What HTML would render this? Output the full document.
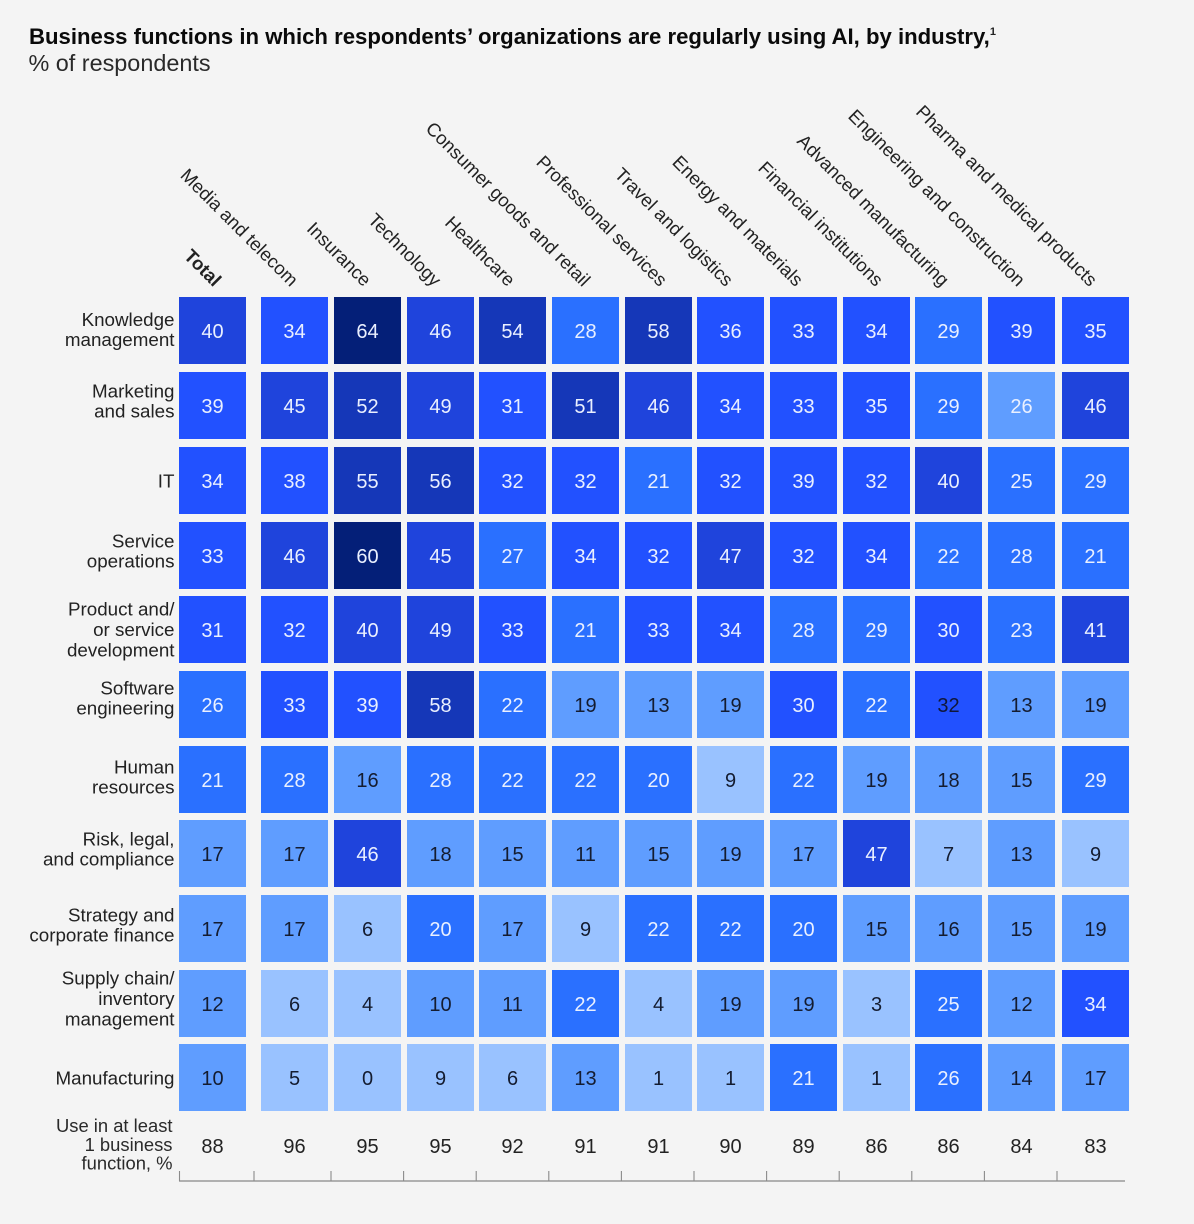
<!DOCTYPE html>
<html lang="en">
<head>
<meta charset="utf-8">
<title>Business functions using AI by industry</title>
<style>
  html, body { margin: 0; padding: 0; background: #f4f4f4; }
  #chart { display: block; width: 1194px; height: 1224px; font-family: "Liberation Sans", sans-serif; }
  .title { font-size: 22.15px; font-weight: 700; fill: #0a0a0a; }
  .subtitle { font-size: 23.4px; fill: #2a2a2a; }
  .sup { font-size: 11px; fill: #222; }
  .row-label { font-size: 18.8px; fill: #222; text-anchor: end; }
  .use-label { font-size: 18.4px; fill: #2a2a2a; text-anchor: end; }
  .col-label { font-size: 18.6px; fill: #222; text-anchor: end; }
  .cell-value { font-size: 20px; text-anchor: middle; }
  .use-value { font-size: 20px; fill: #222; text-anchor: middle; }
</style>
</head>
<body>
<svg id="chart" xmlns="http://www.w3.org/2000/svg" width="1194" height="1224" viewBox="0 0 1194 1224">
  <rect x="0" y="0" width="1194" height="1224" fill="#f4f4f4"></rect>
  <text class="title" x="29" y="44">Business functions in which respondents’ organizations are regularly using AI, by industry,<tspan class="sup" dy="-9">1</tspan></text>
  <text class="subtitle" x="28.5" y="71">% of respondents</text>
  <g id="col-labels"></g>
  <g id="row-labels"></g>
  <g id="cells"></g>
  <g id="use-row"></g>
  <g id="axis"></g>
</svg>
<script>
const industries = ["Total", "Media and telecom", "Insurance", "Technology", "Healthcare", "Consumer goods and retail", "Professional services", "Travel and logistics", "Energy and materials", "Financial institutions", "Advanced manufacturing", "Engineering and construction", "Pharma and medical products"];
const functionLabels = [["Knowledge", "management"], ["Marketing", "and sales"], ["IT"], ["Service", "operations"], ["Product and/", "or service", "development"], ["Software", "engineering"], ["Human", "resources"], ["Risk, legal,", "and compliance"], ["Strategy and", "corporate finance"], ["Supply chain/", "inventory", "management"], ["Manufacturing"]];
const knowledgeManagement = [40, 34, 64, 46, 54, 28, 58, 36, 33, 34, 29, 39, 35];
const marketingAndSales = [39, 45, 52, 49, 31, 51, 46, 34, 33, 35, 29, 26, 46];
const itFunction = [34, 38, 55, 56, 32, 32, 21, 32, 39, 32, 40, 25, 29];
const serviceOperations = [33, 46, 60, 45, 27, 34, 32, 47, 32, 34, 22, 28, 21];
const productDevelopment = [31, 32, 40, 49, 33, 21, 33, 34, 28, 29, 30, 23, 41];
const softwareEngineering = [26, 33, 39, 58, 22, 19, 13, 19, 30, 22, 32, 13, 19];
const humanResources = [21, 28, 16, 28, 22, 22, 20, 9, 22, 19, 18, 15, 29];
const riskLegalCompliance = [17, 17, 46, 18, 15, 11, 15, 19, 17, 47, 7, 13, 9];
const strategyFinance = [17, 17, 6, 20, 17, 9, 22, 22, 20, 15, 16, 15, 19];
const supplyChain = [12, 6, 4, 10, 11, 22, 4, 19, 19, 3, 25, 12, 34];
const manufacturing = [10, 5, 0, 9, 6, 13, 1, 1, 21, 1, 26, 14, 17];
const useLabelLines = ["Use in at least", "1 business", "function, %"];
const useInAtLeastOne = [88, 96, 95, 95, 92, 91, 91, 90, 89, 86, 86, 84, 83];

const matrix = [knowledgeManagement, marketingAndSales, itFunction, serviceOperations, productDevelopment, softwareEngineering, humanResources, riskLegalCompliance, strategyFinance, supplyChain, manufacturing];

const SVG_NS = "http://www.w3.org/2000/svg";
const CELL = 67;

function xScale(i) {
  if (i === 0) return 179;
  return Math.round(261.1 + 72.7 * (i - 1) + (i === 12 ? 1 : 0));
}
function yScale(r) {
  return Math.round(297.4 + 74.7 * r);
}
function tickX(i) {
  if (i === 0) return 179.5;
  if (i === 1) return 254;
  return 331 + 72.6 * (i - 2);
}
function colLabelNudge(i) {
  const nudges = [1, -4, -4, -7, -5, -3, 1, -5, -8, -1, -7, -4, -6];
  return nudges[i] || 0;
}
function rowLabelNudge(r) {
  const nudges = [-0.5, -4, 1, -4, 0.5, -6, -2, -4, -3, -4.5, 1];
  return nudges[r] || 0;
}
function fillFor(v, r, c) {
  if (r === 1 && c === 11) return "#5f9dff";
  if (v >= 60) return "#041f78";
  if (v >= 50) return "#1537b8";
  if (v >= 40) return "#1f44dc";
  if (v >= 30) return "#2251ff";
  if (v >= 20) return "#2a70ff";
  if (v >= 10) return "#5f9dff";
  return "#99c2ff";
}
function inkFor(v, r, c) {
  if (r === 5 && c === 10) return "#10173a";
  return v < 20 ? "#141c30" : "#eaf0ff";
}
function make(tag) {
  return document.createElementNS(SVG_NS, tag);
}
function slug(s) {
  return s.toLowerCase().replace(/[^a-z0-9]+/g, "-").replace(/^-|-$/g, "");
}

const colLabelsG = document.getElementById("col-labels");
const rowLabelsG = document.getElementById("row-labels");
const cellsG = document.getElementById("cells");
const useG = document.getElementById("use-row");
const axisG = document.getElementById("axis");

industries.forEach(function (name, c) {
  const t = make("text");
  
  
  t.setAttribute("class", "col-label");
  const cx = xScale(c) + CELL / 2;
  t.setAttribute("transform", "translate(" + (cx + colLabelNudge(c)) + ",287.5) rotate(45)");
  if (c === 0) t.style.fontWeight = "700";
  t.textContent = name;
  colLabelsG.appendChild(t);
});

functionLabels.forEach(function (lines, r) {
  const mid = yScale(r) + CELL / 2 + rowLabelNudge(r);
  const lh = 20.4;
  lines.forEach(function (line, k) {
    const t = make("text");
    
    
    t.setAttribute("class", "row-label");
    t.setAttribute("x", 174.5);
    t.setAttribute("y", mid + (k - (lines.length - 1) / 2) * lh + 6);
    t.textContent = line;
    rowLabelsG.appendChild(t);
  });
});

matrix.forEach(function (rowValues, r) {
  rowValues.forEach(function (v, c) {
    const rect = make("rect");
    
    
    rect.setAttribute("x", xScale(c));
    rect.setAttribute("y", yScale(r));
    rect.setAttribute("width", CELL);
    rect.setAttribute("height", CELL);
    rect.setAttribute("fill", fillFor(v, r, c));
    cellsG.appendChild(rect);

    const t = make("text");
    
    
    t.setAttribute("class", "cell-value");
    t.setAttribute("x", xScale(c) + CELL / 2);
    t.setAttribute("y", yScale(r) + 41);
    t.setAttribute("fill", inkFor(v, r, c));
    t.textContent = v;
    cellsG.appendChild(t);
  });
});

useLabelLines.forEach(function (line, k) {
  const t = make("text");
  
  
  t.setAttribute("class", "use-label");
  t.setAttribute("x", 172.5);
  t.setAttribute("y", 1132 + k * 18.8);
  t.textContent = line;
  useG.appendChild(t);
});

useInAtLeastOne.forEach(function (v, c) {
  const t = make("text");
  
  
  t.setAttribute("class", "use-value");
  t.setAttribute("x", xScale(c) + CELL / 2);
  t.setAttribute("y", 1153);
  t.textContent = v;
  useG.appendChild(t);
});

const baseLine = make("line");


baseLine.setAttribute("x1", 179);
baseLine.setAttribute("x2", 1125);
baseLine.setAttribute("y1", 1181);
baseLine.setAttribute("y2", 1181);
baseLine.setAttribute("stroke", "#9a9a9a");
baseLine.setAttribute("stroke-width", 1.4);
axisG.appendChild(baseLine);

industries.forEach(function (name, i) {
  const tick = make("line");
  
  
  tick.setAttribute("x1", tickX(i));
  tick.setAttribute("x2", tickX(i));
  tick.setAttribute("y1", 1171);
  tick.setAttribute("y2", 1181);
  tick.setAttribute("stroke", "#8a8a8a");
  tick.setAttribute("stroke-width", 1.1);
  axisG.appendChild(tick);
});
</script>
</body>
</html>
